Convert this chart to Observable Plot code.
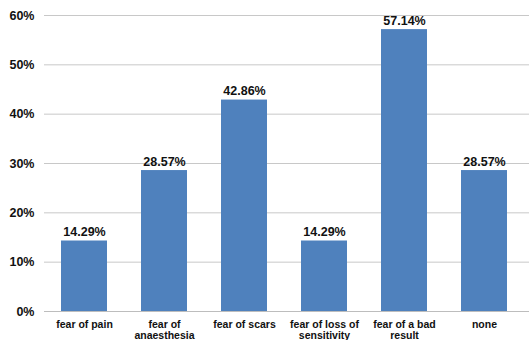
<!DOCTYPE html>
<html>
<head>
<meta charset="utf-8">
<script src="https://cdn.jsdelivr.net/npm/d3@7"></script>
<script src="https://cdn.jsdelivr.net/npm/@observablehq/plot@0.6"></script>
<style>
  body { margin: 0; background: #fff; }
  svg { font-family: "Liberation Sans", Arial, sans-serif; }
</style>
</head>
<body>
<div id="chart"></div>
<script>
const categories = [
  "fear of pain",
  "fear of\nanaesthesia",
  "fear of scars",
  "fear of loss of\nsensitivity",
  "fear of a bad\nresult",
  "none"
];
const shares = [14.29, 28.57, 42.86, 14.29, 57.14, 28.57];
const yTicks = [0, 10, 20, 30, 40, 50, 60];

const rows = categories.map((c, i) => ({category: c, value: shares[i]}));

const chart = Plot.plot({
  width: 530,
  height: 340,
  marginTop: 15,
  marginBottom: 29,
  marginLeft: 44,
  marginRight: 1,
  insetRight: 5,
  style: {fontFamily: "'Liberation Sans', Arial, sans-serif", background: "#fff"},
  x: {domain: categories, paddingInner: 0.42, paddingOuter: 0.21, label: null},
  y: {domain: [0, 60], label: null},
  marks: [
    Plot.gridY(yTicks, {stroke: "#c8c8c8", strokeOpacity: 1, strokeWidth: 1}),
    Plot.barY(rows, {x: "category", y: "value", fill: "#4f81bd"}),
    Plot.ruleY([0], {stroke: "#bdbdbd", strokeWidth: 1}),
    Plot.text(rows, {
      x: "category", y: "value",
      text: d => d.value.toFixed(2) + "%",
      dy: -9, fontSize: 12.5, fontWeight: "bold", fill: "#111"
    }),
    Plot.axisY(yTicks, {
      tickSize: 0, tickPadding: 10, tickFormat: d => d + "%",
      fontSize: 12.5, fontWeight: "bold", fill: "#111"
    }),
    Plot.axisX({
      tickSize: 0, tickPadding: 8,
      fontSize: 10.5, fontWeight: "bold", fill: "#111", lineHeight: 1.1
    })
  ]
});
document.getElementById("chart").append(chart);
</script>
</body>
</html>
